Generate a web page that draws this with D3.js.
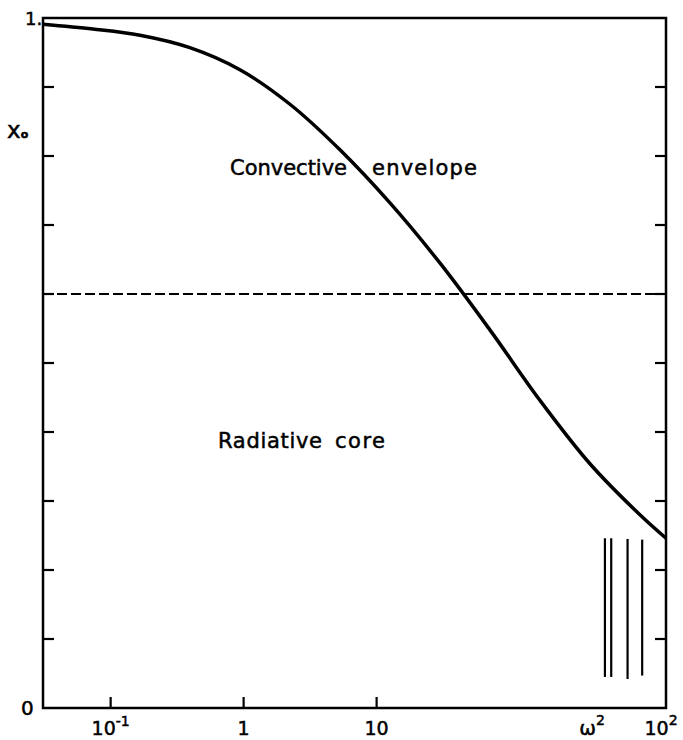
<!DOCTYPE html>
<html>
<head>
<meta charset="utf-8">
<script src="https://cdn.jsdelivr.net/npm/d3@7"></script>
<style>
  body { margin: 0; background: #fff; }
  text { font-family: "DejaVu Sans", sans-serif; fill: #000; stroke: #000; stroke-width: 0.5px; }
</style>
</head>
<body>
<svg id="chart" width="683" height="740"></svg>
<script>
// ---- data ----
const curveX = [0.031, 0.0736, 0.166, 0.394, 0.938, 2.23, 5.30, 12.6, 29.9, 71.1, 169, 402, 955, 1500];
const curveY = [0.991, 0.984, 0.975, 0.957, 0.925, 0.875, 0.809, 0.732, 0.645, 0.548, 0.446, 0.354, 0.280, 0.246];
const boundaryY = 0.6;              // dashed line: convective / radiative boundary
const barX = [521, 581, 771, 993];  // vertical marks at lower right
const barTop = [0.246, 0.246, 0.245, 0.244];
const barBottom = [0.045, 0.045, 0.042, 0.047];
const xTicks = [0.1, 1, 10];
const xTickLabels = ["10", "1", "10"];
const xTickSup = ["-1", "", ""];
const yTicks = [0.1, 0.2, 0.3, 0.4, 0.5, 0.6, 0.7, 0.8, 0.9];
const xDomain = [0.031, 1500];
const yDomain = [0, 1];

// ---- layout ----
const svg = d3.select("#chart");
const L = 43, R = 666, T = 18, B = 708;
const x = d3.scaleLog().domain(xDomain).range([L, R]);
const y = d3.scaleLinear().domain(yDomain).range([B, T]);

// frame
svg.append("rect").attr("x", L).attr("y", T).attr("width", R - L).attr("height", B - T)
  .attr("fill", "none").attr("stroke", "#000").attr("stroke-width", 2.5);

// inward ticks
const tl = 11;
svg.append("g").selectAll("line").data(yTicks).join("line")
  .attr("x1", L).attr("x2", L + tl).attr("y1", d => y(d)).attr("y2", d => y(d))
  .attr("stroke", "#000").attr("stroke-width", 2.2);
svg.append("g").selectAll("line").data(yTicks).join("line")
  .attr("x1", R).attr("x2", R - tl).attr("y1", d => y(d)).attr("y2", d => y(d))
  .attr("stroke", "#000").attr("stroke-width", 2.2);
svg.append("g").selectAll("line").data(xTicks).join("line")
  .attr("x1", d => x(d)).attr("x2", d => x(d)).attr("y1", B).attr("y2", B - tl)
  .attr("stroke", "#000").attr("stroke-width", 2.2);

// x tick labels
const xl = svg.append("g").selectAll("text").data(xTicks).join("text")
  .attr("x", d => x(d)).attr("y", 735).attr("text-anchor", "middle")
  .attr("font-size", 19);
xl.append("tspan").text((d, i) => xTickLabels[i]);
xl.append("tspan").attr("dy", -9).attr("font-size", 14).text((d, i) => xTickSup[i]);

// omega^2 and 10^2 at right end
const om = svg.append("text").attr("x", 592).attr("y", 735).attr("text-anchor", "middle").attr("font-size", 20);
om.append("tspan").text("ω");
om.append("tspan").attr("dy", -10).attr("font-size", 14).text("2");
const hd = svg.append("text").attr("x", 661).attr("y", 735).attr("text-anchor", "middle").attr("font-size", 19);
hd.append("tspan").text("10");
hd.append("tspan").attr("dy", -10).attr("font-size", 14).text("2");

// y labels
svg.append("text").attr("x", 25).attr("y", 25).attr("font-size", 18).text("1.");
svg.append("text").attr("x", 21).attr("y", 715).attr("font-size", 20).text("0");
const x0 = svg.append("text").attr("x", 7).attr("y", 138).attr("font-size", 23);
x0.append("tspan").text("x");
x0.append("tspan").attr("dy", 0).attr("font-size", 11).attr("font-weight", "bold").text("o");

// dashed boundary
svg.append("line").attr("x1", L).attr("x2", R).attr("y1", y(boundaryY)).attr("y2", y(boundaryY))
  .attr("stroke", "#000").attr("stroke-width", 2).attr("stroke-dasharray", "10,4");

// curve
const pts = curveX.map((d, i) => [d, curveY[i]]);
svg.append("path").datum(pts)
  .attr("d", d3.line().x(d => x(d[0])).y(d => y(d[1])).curve(d3.curveCatmullRom.alpha(0.5)))
  .attr("fill", "none").attr("stroke", "#000").attr("stroke-width", 3.5);

// vertical marks
svg.append("g").selectAll("line").data(barX).join("line")
  .attr("x1", d => x(d)).attr("x2", d => x(d))
  .attr("y1", (d, i) => y(barTop[i])).attr("y2", (d, i) => y(barBottom[i]))
  .attr("stroke", "#000").attr("stroke-width", 2.2);

// region labels
svg.append("text").attr("x", 230).attr("y", 175).attr("font-size", 21).attr("textLength", 117).text("Convective");
svg.append("text").attr("x", 372).attr("y", 175).attr("font-size", 21).attr("textLength", 105).text("envelope");
svg.append("text").attr("x", 218).attr("y", 448).attr("font-size", 21).attr("textLength", 104).text("Radiative");
svg.append("text").attr("x", 335).attr("y", 448).attr("font-size", 21).attr("textLength", 50).text("core");
</script>
</body>
</html>
